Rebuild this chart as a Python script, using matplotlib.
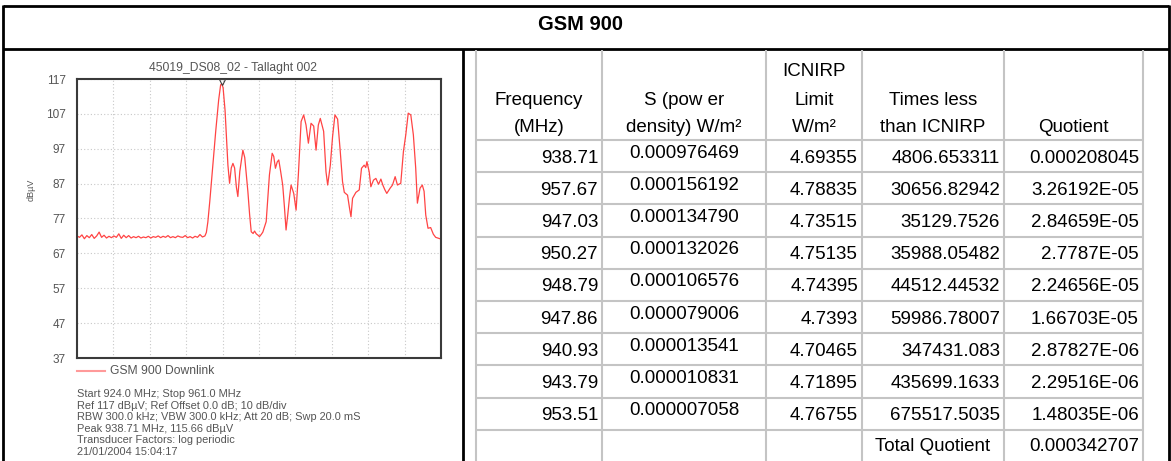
import numpy as np
import matplotlib
matplotlib.use('Agg')
import matplotlib.pyplot as plt

plt.rcParams['font.family'] = ['Liberation Sans', 'DejaVu Sans']

# analyser trace (MHz, dBuV)
trace_mhz = [
    924.0, 924.25, 924.5, 924.75, 925.0, 925.25, 925.5, 925.75, 926.0, 926.25,
    926.5, 926.75, 927.0, 927.25, 927.5, 927.75, 928.0, 928.25, 928.5, 928.75,
    929.0, 929.25, 929.5, 929.75, 930.0, 930.25, 930.5, 930.75, 931.0, 931.25,
    931.5, 931.75, 932.0, 932.25, 932.5, 932.75, 933.0, 933.25, 933.5, 933.75,
    934.0, 934.25, 934.5, 934.75, 935.0, 935.25, 935.5, 935.75, 936.0, 936.25,
    936.5, 936.75, 937.0, 937.15, 937.3, 937.5, 937.8, 938.1, 938.4, 938.6,
    938.71, 938.85, 939.05, 939.34, 939.51, 939.68, 939.85, 940.02, 940.2, 940.35,
    940.55, 940.86, 941.05, 941.2, 941.37, 941.55, 941.71, 941.9, 942.05, 942.22,
    942.4, 942.55, 942.72, 942.89, 943.05, 943.23, 943.4, 943.56, 943.84, 944.0,
    944.17, 944.35, 944.51, 944.7, 944.91, 945.08, 945.25, 945.42, 945.6, 945.76,
    946.03, 946.27, 946.5, 946.78, 947.04, 947.28, 947.52, 947.79, 948.06, 948.3,
    948.53, 948.73, 949.07, 949.31, 949.48, 949.75, 949.98, 950.22, 950.49, 950.76,
    950.99, 951.17, 951.5, 951.7, 951.85, 952.01, 952.35, 952.69, 952.92, 953.19,
    953.35, 953.47, 953.7, 953.87, 954.14, 954.38, 954.65, 954.89, 955.1, 955.3,
    955.49, 955.83, 956.07, 956.34, 956.57, 956.91, 957.18, 957.42, 957.67, 957.93,
    958.19, 958.43, 958.6, 958.87, 959.1, 959.28, 959.45, 959.68, 959.95, 960.22,
    960.46, 961.0,
]
trace_dbuv = [
    72.0, 71.6, 72.3, 71.2, 72.1, 71.5, 72.4, 71.3, 72.0, 73.1,
    71.6, 72.2, 71.4, 71.9, 71.5, 72.0, 71.6, 72.6, 71.3, 72.2,
    71.5, 72.1, 71.4, 71.8, 71.5, 71.9, 71.4, 71.7, 71.5, 71.9,
    71.4, 71.8, 71.6, 72.0, 71.5, 71.9, 71.6, 72.1, 71.5, 71.8,
    71.5, 72.0, 71.7, 71.6, 72.1, 71.5, 71.8, 71.4, 71.9, 71.6,
    72.4, 71.7, 72.0, 73.0, 76.0, 82.0, 92.0, 102.0, 111.0, 115.3,
    115.66, 114.5, 108.0, 92.3, 87.1, 91.5, 92.8, 91.5, 86.0, 83.3,
    90.5, 96.6, 94.5, 90.0, 84.7, 78.0, 73.2, 72.7, 73.4, 72.6,
    72.2, 71.8, 72.4, 73.1, 74.5, 76.1, 83.0, 89.5, 95.7, 94.8,
    91.4, 93.2, 93.8, 90.5, 86.6, 80.5, 73.7, 78.0, 83.0, 86.6,
    84.2, 79.4, 89.5, 104.8, 106.7, 103.8, 98.6, 104.3, 103.5, 96.6,
    103.8, 105.7, 102.0, 90.4, 86.6, 92.3, 100.5, 106.7, 105.5, 96.2,
    87.6, 84.5, 83.7, 80.0, 77.5, 82.8, 84.5, 85.2, 91.4, 92.3,
    91.6, 93.3, 90.4, 86.1, 88.0, 88.5, 86.8, 88.3, 86.5, 85.2,
    84.2, 85.7, 86.6, 89.0, 86.6, 87.1, 96.2, 101.0, 107.2, 106.7,
    101.0, 91.4, 81.4, 85.7, 86.6, 84.8, 78.0, 74.2, 74.4, 72.5,
    71.6, 71.1,
]

span_start = 924.0
span_stop = 961.0
ref_level = 117
bottom_level = 37
peak_mhz = 938.71

info_lines = [
    'Start 924.0 MHz; Stop 961.0 MHz',
    'Ref 117 dBµV; Ref Offset 0.0 dB; 10 dB/div',
    'RBW 300.0 kHz; VBW 300.0 kHz; Att 20 dB; Swp 20.0 mS',
    'Peak 938.71 MHz, 115.66 dBµV',
    'Transducer Factors: log periodic',
    '21/01/2004 15:04:17',
]

# table values
freq_col = ['938.71', '957.67', '947.03', '950.27', '948.79', '947.86',
            '940.93', '943.79', '953.51']
s_col = ['0.000976469', '0.000156192', '0.000134790', '0.000132026',
         '0.000106576', '0.000079006', '0.000013541', '0.000010831',
         '0.000007058']
limit_col = ['4.69355', '4.78835', '4.73515', '4.75135', '4.74395', '4.7393',
             '4.70465', '4.71895', '4.76755']
times_col = ['4806.653311', '30656.82942', '35129.7526', '35988.05482',
             '44512.44532', '59986.78007', '347431.083', '435699.1633',
             '675517.5035']
quot_col = ['0.000208045', '3.26192E-05', '2.84659E-05', '2.7787E-05',
            '2.24656E-05', '1.66703E-05', '2.87827E-06', '2.29516E-06',
            '1.48035E-06']
total_quotient = '0.000342707'
headers = [
    ['Frequency', '(MHz)'],
    ['S (pow er', 'density) W/m²'],
    ['ICNIRP', 'Limit', 'W/m²'],
    ['Times less', 'than ICNIRP'],
    ['Quotient'],
]

W, H = 1171, 461
fig = plt.figure(figsize=(W / 100, H / 100), dpi=100)
ov = fig.add_axes([0, 0, 1, 1])
ov.set_xlim(0, W)
ov.set_ylim(H, 0)
ov.axis('off')

# outer frame
blk = dict(color='black', lw=2.0, solid_capstyle='butt')
ov.plot([3, 1169], [6, 6], **blk)
ov.plot([3, 1169], [49, 49], **blk)
ov.plot([3, 3], [5, H], **blk)
ov.plot([1169, 1169], [5, H], **blk)
ov.plot([463, 463], [49, H], **blk)
ov.text(580, 24, 'GSM 900', ha='center', va='center', fontsize=14.5,
        fontweight='bold')

# table grid
col_x = [476, 602, 766, 862, 1004, 1143]
row_y = [140 + 32.2 * i for i in range(10)]
gry = dict(color='#c4c4c4', lw=1.5, solid_capstyle='butt')
for x in col_x:
    ov.plot([x, x], [50, H], **gry)
for y in row_y:
    ov.plot([col_x[0], col_x[-1]], [y, y], **gry)

fs = 13.5
line_y = [127, 100, 72]
for c, lines in enumerate(headers):
    xc = (col_x[c] + col_x[c + 1]) / 2
    for k, txt in enumerate(reversed(lines)):
        ov.text(xc, line_y[k], txt, ha='center', va='center', fontsize=fs)

cols = [freq_col, s_col, limit_col, times_col, quot_col]
for r in range(len(freq_col)):
    top = row_y[r]
    for c, col in enumerate(cols):
        if c == 1:
            xc = (col_x[1] + col_x[2]) / 2
            ov.text(xc, top + 13, col[r], ha='center', va='center', fontsize=fs)
        else:
            ov.text(col_x[c + 1] - 4, top + 18, col[r], ha='right',
                    va='center', fontsize=fs)
last = row_y[-1]
ov.text((col_x[3] + col_x[4]) / 2, last + 17, 'Total Quotient', ha='center',
        va='center', fontsize=fs)
ov.text(col_x[5] - 4, last + 17, total_quotient, ha='right', va='center',
        fontsize=fs)

# spectrum plot
ax = fig.add_axes([77 / W, (H - 358) / H, 364 / W, 279 / H])
ax.plot(trace_mhz, trace_dbuv, color='#ff4444', lw=0.9)
ax.plot([peak_mhz], [ref_level - 0.9], marker='v', ms=4, mfc='none',
        mec='#404040', mew=0.8, clip_on=False, zorder=5)
ax.set_xlim(span_start, span_stop)
ax.set_ylim(bottom_level, ref_level)
ax.set_xticks(np.linspace(span_start, span_stop, 11))
ax.set_yticks(np.arange(bottom_level, ref_level + 1, 10))
ax.set_xticklabels([])
ax.tick_params(length=0, labelsize=8.5, colors='#555555', pad=8)
ax.grid(True, color='#c8c8c8', linestyle=(0, (1, 2)), lw=0.8)
for s in ax.spines.values():
    s.set_color('#3a3a3a')
    s.set_linewidth(1.5)

ov.text(233, 68, '45019_DS08_02 - Tallaght 002', ha='center', va='center',
        fontsize=8.7, color='#555555')
ov.text(31, 190, 'dBµV', rotation=90, ha='center', va='center', fontsize=6.5,
        color='#555555')
ov.plot([77, 105], [371, 371], color='#ff9a9a', lw=1.5)
ov.text(110, 371, 'GSM 900 Downlink', ha='left', va='center', fontsize=8.7,
        color='#555555')
for i, txt in enumerate(info_lines):
    ov.text(77, 394 + 11.6 * i, txt, ha='left', va='center', fontsize=7.9,
            color='#555555')

fig.savefig('out.png', dpi=100)
